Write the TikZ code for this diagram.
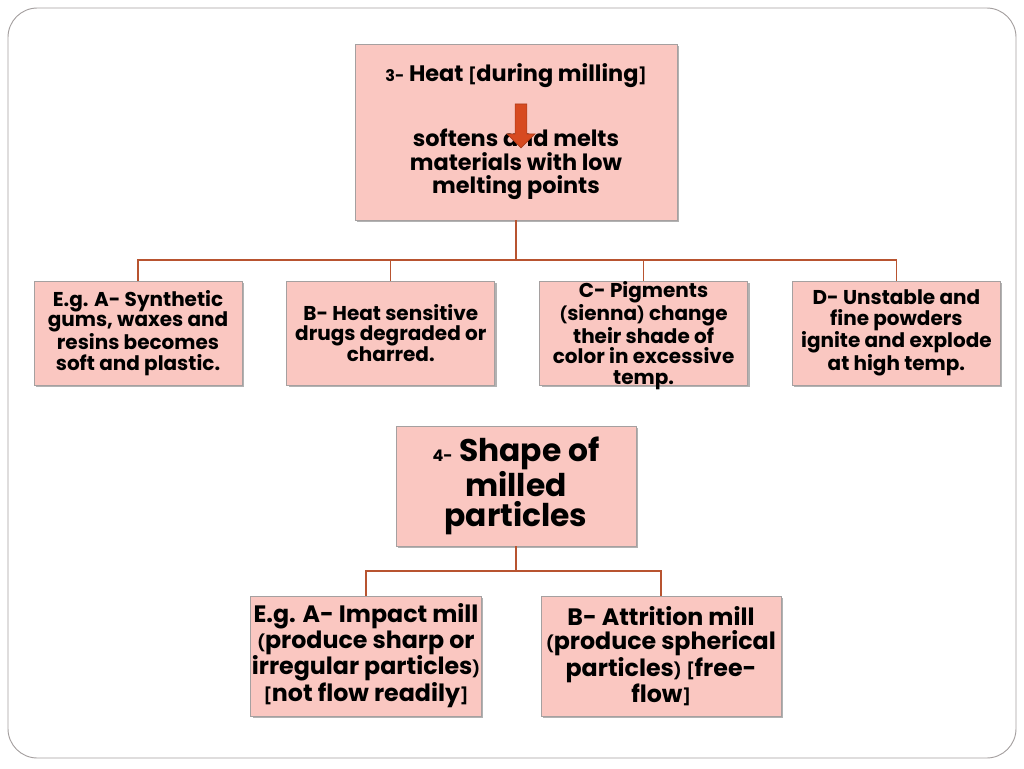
\documentclass[tikz,border=0pt]{standalone}
\usepackage{fontspec}
\setmainfont{Poppins}
\usetikzlibrary{positioning}
\usetikzlibrary{shapes.arrows}
\usetikzlibrary{shadows}
\definecolor{boxpink}{RGB}{250,199,193}
\definecolor{boxedge}{RGB}{165,160,160}
\definecolor{linkbrown}{RGB}{184,84,48}
\definecolor{arrowred}{RGB}{215,74,32}
\newcommand{\smallpart}[1]{{\fontsize{12}{12}\selectfont #1}}

\begin{document}
\begin{tikzpicture}[
			x=0.75pt, y=-0.75pt,
			box/.style={rectangle, draw=boxedge, fill=boxpink, line width=0.6pt, align=center, text centered, inner sep=1pt,
				drop shadow={shadow xshift=1.5pt, shadow yshift=-1.5pt, fill=black, opacity=0.3}},
			headbox/.style={box, minimum width=241.5pt, minimum height=132pt, font=\bfseries\fontsize{16.8}{17.6}\selectfont},
			effbox/.style={box, minimum width=156pt, minimum height=78pt, inner sep=0pt, font=\bfseries\fontsize{15}{15.4}\selectfont},
			shapebox/.style={box, minimum width=180pt, minimum height=90pt, font=\bfseries\fontsize{23.5}{23.2}\selectfont},
			millbox/.style={box, minimum height=90pt, font=\bfseries\fontsize{17.8}{18}\selectfont},
			link/.style={draw=linkbrown, line width=0.8pt},
			]
			
			% page and frame
			\useasboundingbox (0,0) rectangle (1024,768);
			\draw[draw=boxedge, line width=0.7pt, rounded corners=22pt] (8,8) rectangle (1016,758);
			
			% heat
			\node[headbox]     (heat) at (516,132)     {\smallpart{3-} Heat \smallpart{[}during milling\smallpart{]}\\[30pt]
				softens and melts\\ materials with low\\ melting points};
			\node[single arrow, draw=arrowred!80!black, fill=arrowred, line width=0.5pt, shape border rotate=270,
				minimum height=33pt, minimum width=21pt, single arrow head extend=4.5pt, single arrow tip angle=90,
				inner sep=0pt, text width=6pt]   (down) at (521,123) {};
			
			\node[effbox]      (eff_a) at (138,333)                {E.g. A- Synthetic\\ gums, waxes and\\ resins becomes\\ soft and plastic.};
			\node[effbox]      (eff_b) [right=33pt of eff_a]       {B- Heat sensitive\\ drugs degraded or\\ charred.};
			\node[effbox, text depth=0pt]      (eff_c) [right=33pt of eff_b]       {C- Pigments\\ \smallpart{(}sienna\smallpart{)} change\\ their shade of\\ color in excessive\\ temp.};
			\node[effbox]      (eff_d) [right=33pt of eff_c]       {D- Unstable and\\ fine powders\\ ignite and explode\\ at high temp.};
			
			\coordinate (j_1) at (516,260);
			\draw[link] (heat.south) -- (j_1);
			\draw[link] (j_1) -| (eff_a.north);
			\draw[link] (j_1) -| (eff_b.north);
			\draw[link] (j_1) -| (eff_c.north);
			\draw[link] (j_1) -| (eff_d.north);
			
			% shape of particles
			\node[shapebox]    (shape) at (516,486)     {\smallpart{4-} Shape of\\ milled\\ particles};
			
			\node[millbox, minimum width=172.5pt]  (mill_a) at (366,656)  {E.g. A- Impact mill\\ \smallpart{(}produce sharp or\\ irregular particles\smallpart{)}\\ \smallpart{[}not flow readily\smallpart{]}};
			\node[millbox, minimum width=180pt]    (mill_b) at (661,656)  {B- Attrition mill\\ \smallpart{(}produce spherical\\ particles\smallpart{)} \smallpart{[}free-\\ flow\smallpart{]}};
			
			\coordinate (j_2) at (516,571);
			\draw[link] (shape.south) -- (j_2);
			\draw[link] (j_2) -| (mill_a.north);
			\draw[link] (j_2) -| (mill_b.north);
			
			\end{tikzpicture}
\end{document}
